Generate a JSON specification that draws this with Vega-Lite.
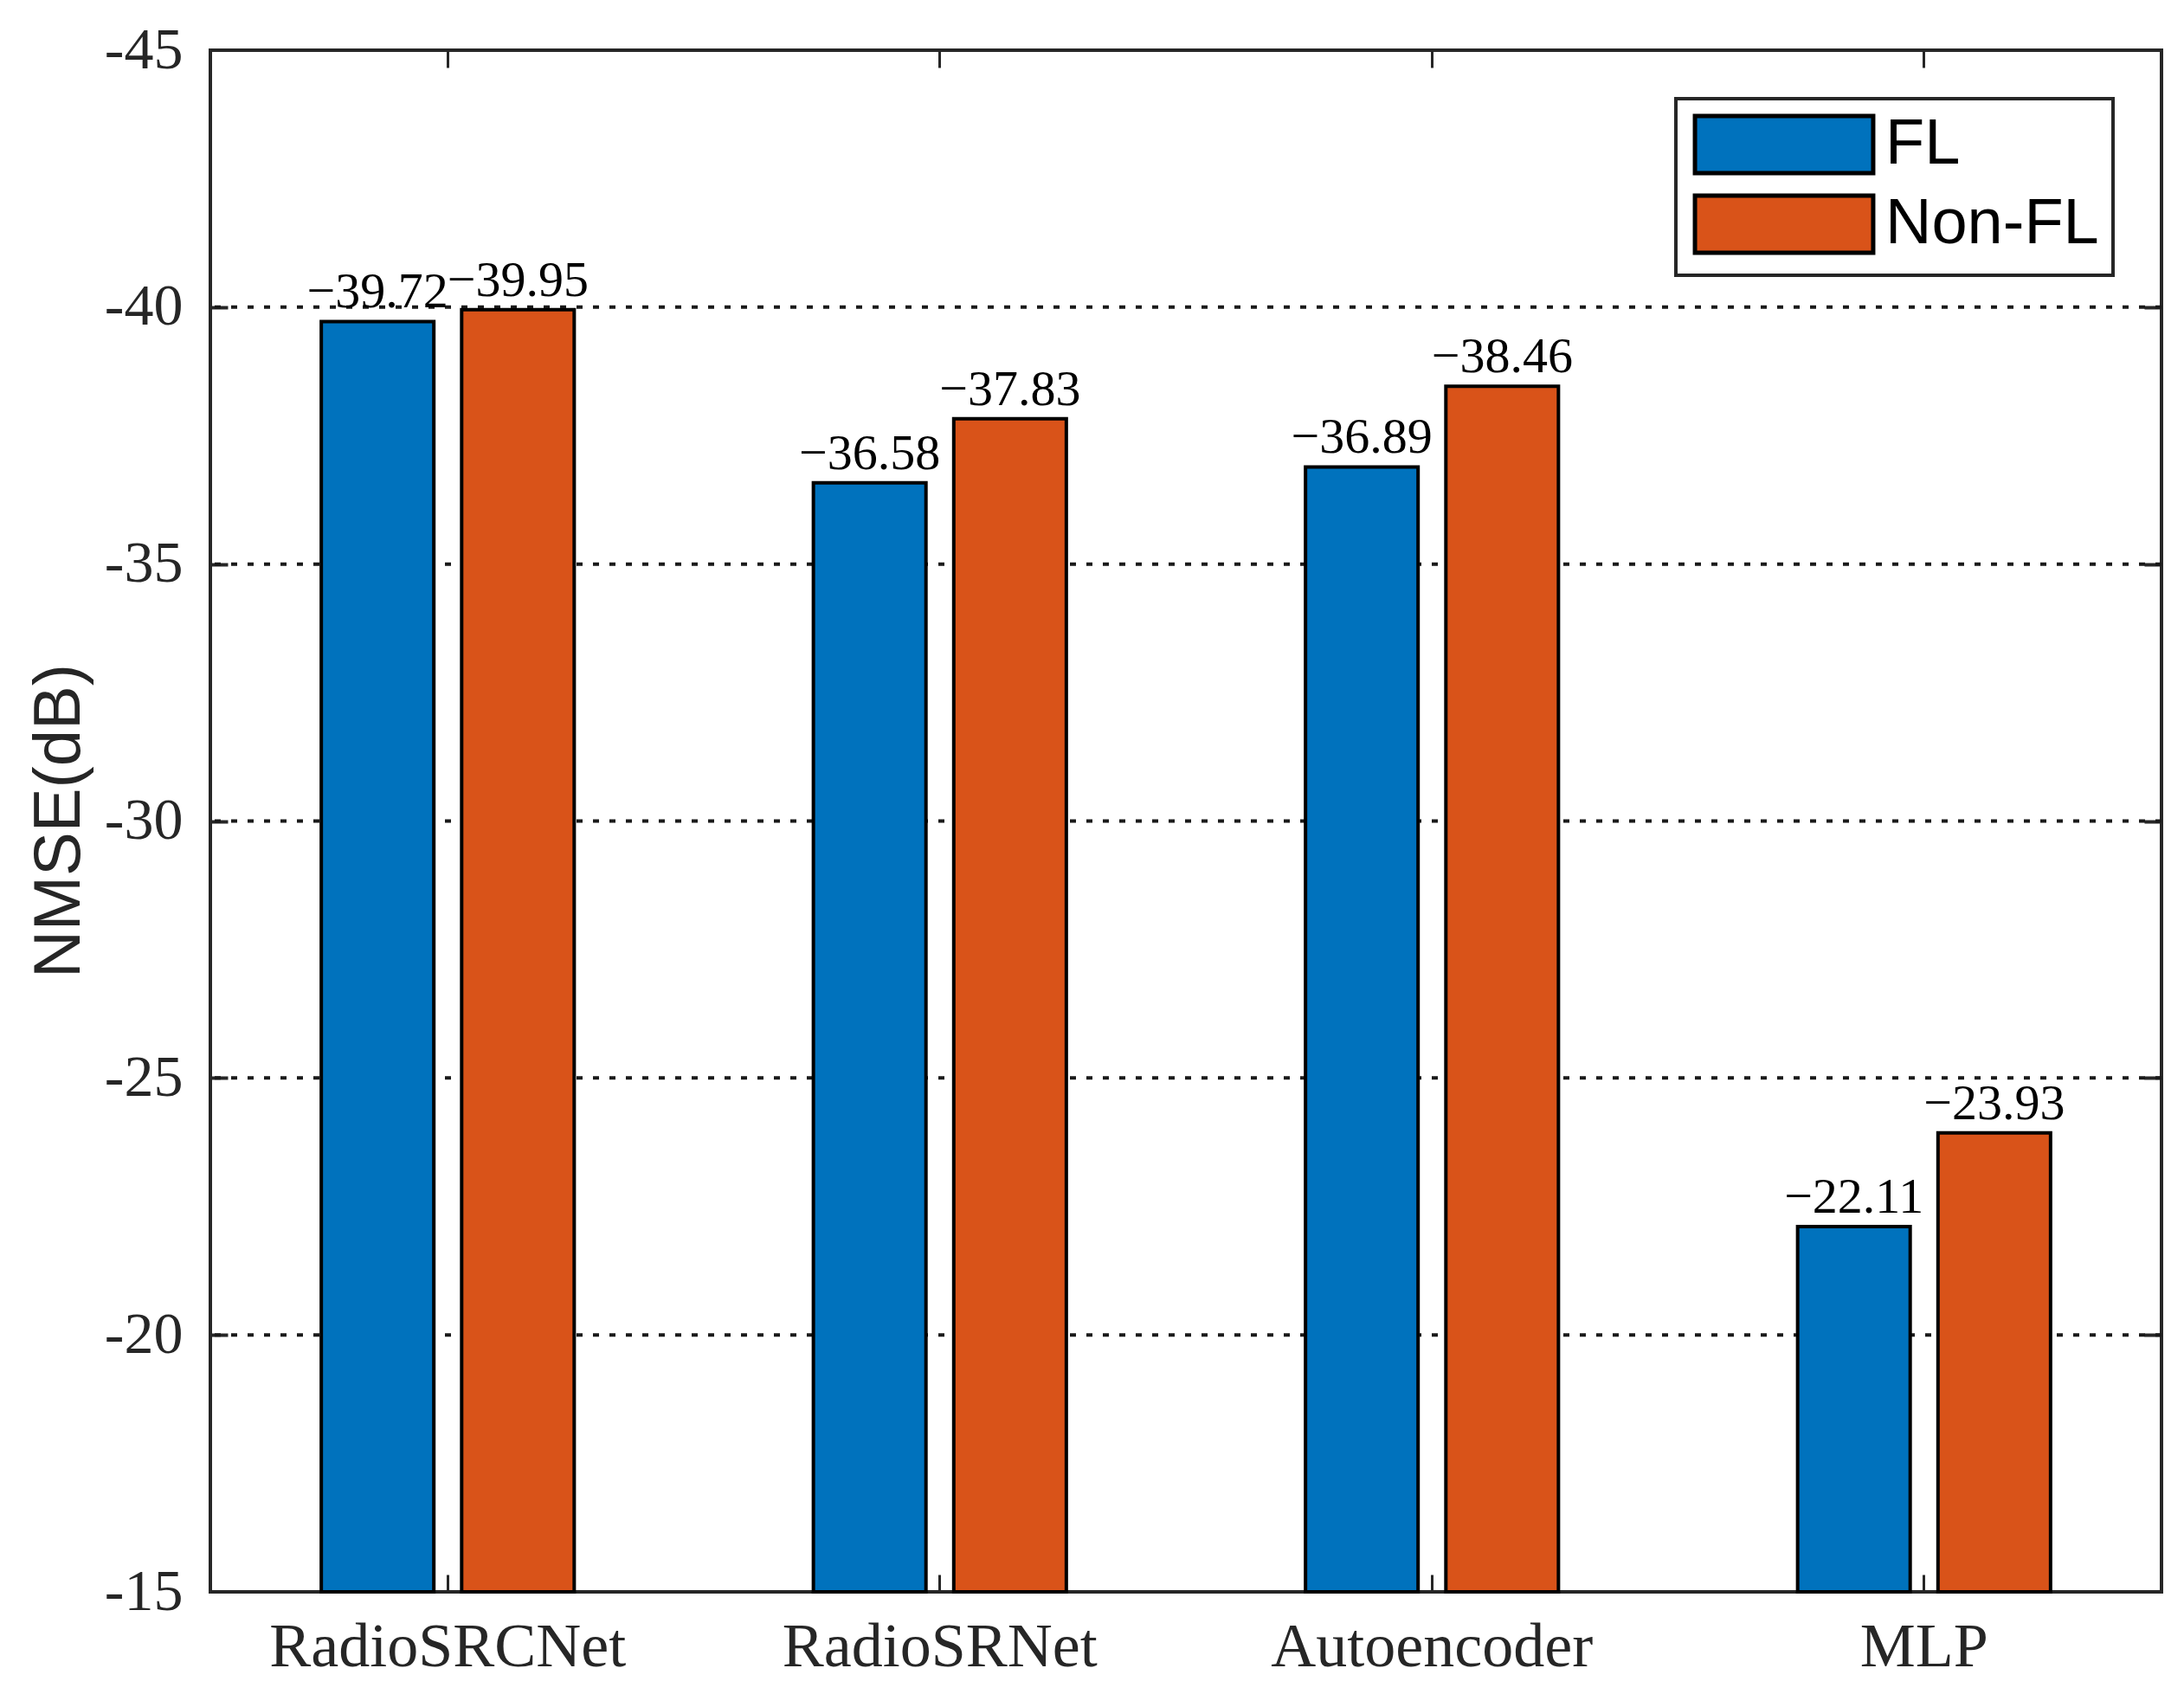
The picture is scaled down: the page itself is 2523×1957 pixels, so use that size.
{
  "$schema": "https://vega.github.io/schema/vega-lite/v6.json",
  "width": 2254,
  "height": 1781,
  "autosize": "none",
  "padding": {"left": 243, "top": 58, "right": 26, "bottom": 118},
  "background": "white",
  "config": {
    "view": {"stroke": "#262626", "strokeWidth": 4},
    "font": "Liberation Serif",
    "legend": {"strokeWidth": 4}
  },
  "datasets": {
    "nmse": [
      {"model": "RadioSRCNet", "scheme": "FL", "nmse": -39.72},
      {"model": "RadioSRCNet", "scheme": "Non-FL", "nmse": -39.95},
      {"model": "RadioSRNet", "scheme": "FL", "nmse": -36.58},
      {"model": "RadioSRNet", "scheme": "Non-FL", "nmse": -37.83},
      {"model": "Autoencoder", "scheme": "FL", "nmse": -36.89},
      {"model": "Autoencoder", "scheme": "Non-FL", "nmse": -38.46},
      {"model": "MLP", "scheme": "FL", "nmse": -22.11},
      {"model": "MLP", "scheme": "Non-FL", "nmse": -23.93}
    ],
    "grid": [
      {"level": -40}, {"level": -35}, {"level": -30}, {"level": -25}, {"level": -20}
    ]
  },
  "data": {"name": "nmse"},
  "layer": [
    {
      "data": {"name": "grid"},
      "mark": {"type": "rule", "strokeDash": [7, 12], "strokeWidth": 4, "color": "#1a1a1a"},
      "encoding": {
        "y": {"field": "level", "type": "quantitative", "axis": null}
      }
    },
    {
      "mark": {"type": "bar", "stroke": "black", "strokeWidth": 4},
      "encoding": {
        "x": {
          "field": "model", "type": "nominal",
          "sort": ["RadioSRCNet", "RadioSRNet", "Autoencoder", "MLP"],
          "scale": {"paddingInner": 0, "paddingOuter": 0, "range": [-10, 2264]},
          "axis": {
            "orient": "bottom", "title": null, "labelAngle": 0,
            "ticks": false, "domain": false, "labelLimit": 1000,
            "labelFont": "Liberation Serif", "labelFontSize": 72,
            "labelColor": "#262626", "labelPadding": 28
          }
        },
        "xOffset": {
          "field": "scheme", "type": "nominal", "sort": ["FL", "Non-FL"],
          "scale": {"paddingInner": 0.198, "paddingOuter": 0.852}
        },
        "y": {
          "field": "nmse", "type": "quantitative",
          "scale": {"domain": [-45, -15], "reverse": true, "nice": false, "zero": false},
          "axis": {
            "orient": "left",
            "values": [-45, -40, -35, -30, -25, -20, -15],
            "labelExpr": "datum.value + ''",
            "ticks": false, "domain": false, "grid": false,
            "labelFont": "Liberation Serif", "labelFontSize": 68,
            "labelColor": "#262626", "labelPadding": 32,
            "title": "NMSE(dB)",
            "titleFont": "Liberation Sans", "titleFontSize": 76,
            "titleFontWeight": "normal", "titleColor": "#262626",
            "titleX": -175, "titleY": 890, "titleAngle": -90,
            "titleAlign": "center", "titleBaseline": "middle"
          }
        },
        "y2": {"datum": -15},
        "color": {
          "field": "scheme", "type": "nominal",
          "scale": {"domain": ["FL", "Non-FL"], "range": ["#0072BD", "#D95319"]},
          "legend": {
            "title": null,
            "orient": "top-right",
            "offset": 56,
            "padding": 16,
            "strokeColor": "#262626",
            "fillColor": "white",
            "symbolType": "M-3.12,-1H3.12V1H-3.12Z",
            "symbolSize": 4356,
            "symbolOffset": 72,
            "symbolStrokeColor": "black",
            "symbolStrokeWidth": 5,
            "symbolOpacity": 1,
            "labelFont": "Liberation Sans",
            "labelFontSize": 74,
            "labelColor": "black",
            "labelLimit": 500,
            "labelOffset": 80,
            "rowPadding": 6
          }
        }
      }
    },
    {
      "mark": {"type": "text", "baseline": "alphabetic", "dy": -16, "fontSize": 58, "font": "Liberation Serif", "color": "black"},
      "encoding": {
        "x": {
          "field": "model", "type": "nominal",
          "sort": ["RadioSRCNet", "RadioSRNet", "Autoencoder", "MLP"],
          "axis": {"orient": "bottom", "labels": false, "domain": false, "grid": false, "title": null, "ticks": true, "tickSize": -20, "tickWidth": 3, "tickColor": "#262626"}
        },
        "xOffset": {"field": "scheme", "type": "nominal", "sort": ["FL", "Non-FL"]},
        "y": {
          "field": "nmse", "type": "quantitative",
          "axis": {
            "orient": "left", "values": [-40, -35, -30, -25, -20], "labels": false, "domain": false, "title": null, "grid": false,
            "ticks": true, "tickSize": -20, "tickWidth": 4, "tickColor": "#262626"
          }
        },
        "text": {"field": "nmse", "type": "quantitative", "format": ".2f"}
      }
    },
    {
      "mark": {"type": "bar", "opacity": 0},
      "encoding": {
        "x": {
          "field": "model", "type": "nominal",
          "sort": ["RadioSRCNet", "RadioSRNet", "Autoencoder", "MLP"],
          "axis": {"orient": "top", "labels": false, "domain": false, "grid": false, "title": null, "ticks": true, "tickSize": -20, "tickWidth": 3, "tickColor": "#262626"}
        },
        "xOffset": {"field": "scheme", "type": "nominal", "sort": ["FL", "Non-FL"]},
        "y": {
          "field": "nmse", "type": "quantitative",
          "axis": {"orient": "right", "values": [-40, -35, -30, -25, -20], "labels": false, "domain": false, "grid": false, "title": null, "ticks": true, "tickSize": -20, "tickWidth": 4, "tickColor": "#262626"}
        },
        "y2": {"datum": -15}
      }
    }
  ],
  "resolve": {"axis": {"x": "independent", "y": "independent"}}
}
